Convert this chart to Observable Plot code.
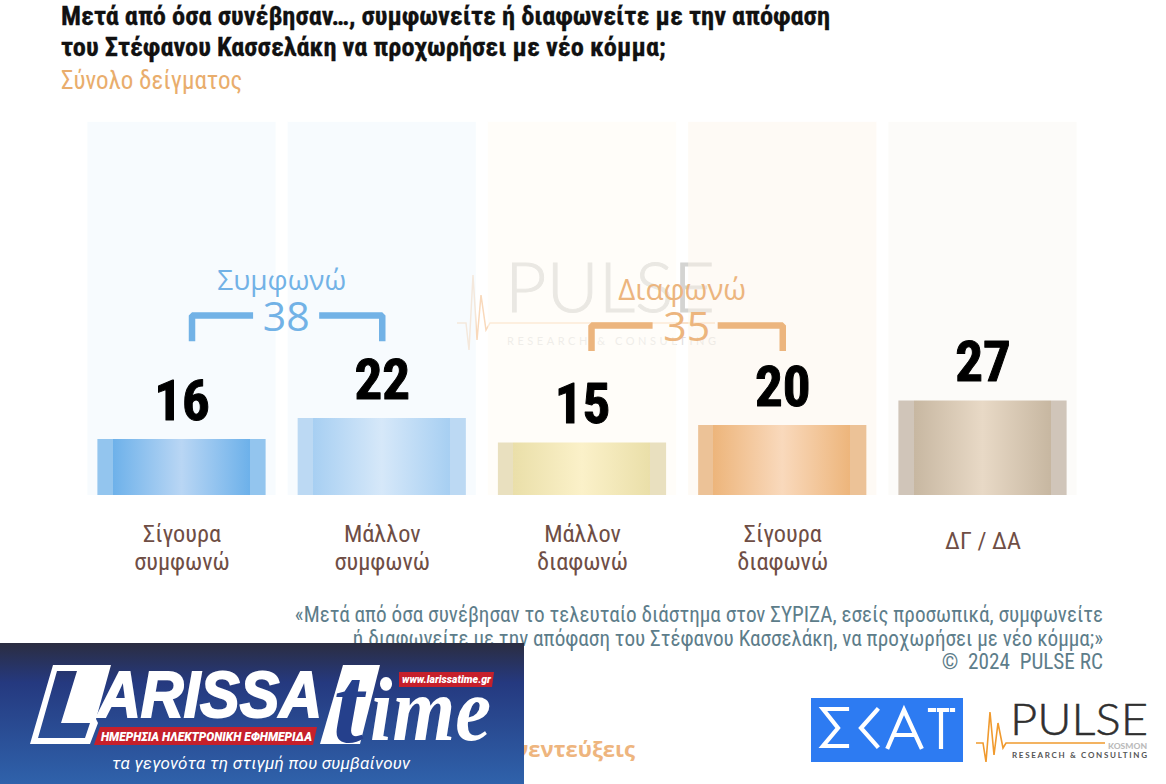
<!DOCTYPE html>
<html lang="el"><head><meta charset="utf-8">
<script src="https://cdn.jsdelivr.net/npm/d3@7"></script>
<script src="https://cdn.jsdelivr.net/npm/@observablehq/plot@0.6"></script>
<style>
html,body{margin:0;padding:0;background:#fff;width:1166px;height:784px;overflow:hidden}
#page{position:relative;width:1166px;height:784px;overflow:hidden}
#page>*{position:absolute}
.cond{font-family:"Roboto Condensed","Liberation Sans Narrow",Roboto,sans-serif}
.t{left:61px;color:#111;font-weight:700;font-size:26.4px;line-height:31px;white-space:nowrap;-webkit-text-stroke:.3px #111}
#chart{left:0;top:0;z-index:2}
#chart svg{background:transparent}
</style></head><body>
<div id="page">
<div class="t cond" style="top:1px">Μετά από όσα συνέβησαν…, συμφωνείτε ή διαφωνείτε με την απόφαση<br>του Στέφανου Κασσελάκη να προχωρήσει με νέο κόμμα;</div>
<div class="cond" style="left:61px;top:66px;font-size:25px;color:#e9ad6c;white-space:nowrap">Σύνολο δείγματος</div>

<svg style="left:450px;top:235px;z-index:1" width="320" height="130" font-family="Lato,sans-serif">
<g transform="translate(0,20)">
<polyline points="7,68 16,68 19,95 23,20 27,85 31,40 36,75 40,68 265,68" fill="none" stroke="#f9d9bb" stroke-width="1.5"/>
<text x="55" y="57" font-size="68" font-weight="300" fill="#d4d4d2" stroke="#d4d4d2" stroke-width=".9" textLength="210" lengthAdjust="spacingAndGlyphs">PULSE</text>
<text x="57" y="90" font-size="11" fill="#dedede" textLength="209">RESEARCH &amp; CONSULTING</text>
</g>
</svg>

<div id="chart"></div>

<div class="cond" style="right:63px;top:603px;text-align:right;font-size:21.2px;line-height:23.5px;color:#5d7d8a;white-space:nowrap;z-index:3">«Μετά από όσα συνέβησαν το τελευταίο διάστημα στον ΣΥΡΙΖΑ, εσείς προσωπικά, συμφωνείτε<br>ή διαφωνείτε με την απόφαση του Στέφανου Κασσελάκη, να προχωρήσει με νέο κόμμα;»<br>©&nbsp; 2024&nbsp; PULSE RC</div>
<div style="right:531px;top:733px;font:700 22px 'Open Sans',sans-serif;color:#eeb57e;white-space:nowrap;z-index:3">συνεντεύξεις</div>

<svg style="left:0;top:643px;z-index:4" width="524" height="141">
<defs><linearGradient id="bn" x1="0" x2="0" y1="0" y2="1"><stop offset="0" stop-color="#2b2d41"/><stop offset=".28" stop-color="#25397f"/><stop offset="1" stop-color="#2f62ab"/></linearGradient></defs>
<rect width="524" height="141" fill="url(#bn)"/>
<path d="M53 22H111L96 76L98 80L90 101H30Z M57 28L38 95H85L90 80H61L77 28Z" fill="#fff" fill-rule="evenodd"/>
<text x="98" y="74" font-family="Liberation Sans,sans-serif" font-weight="700" font-style="italic" font-size="65" fill="#fff" stroke="#fff" stroke-width="2" textLength="224" lengthAdjust="spacingAndGlyphs">ARISSA</text>
<path d="M100 84H317L313 102H94Z" fill="#c5202b"/>
<text x="101" y="98" font-family="Roboto,sans-serif" font-weight="900" font-style="italic" font-size="13" fill="#fff" textLength="211" lengthAdjust="spacingAndGlyphs">ΗΜΕΡΗΣΙΑ ΗΛΕΚΤΡΟΝΙΚΗ ΕΦΗΜΕΡΙΔΑ</text>
<path d="M343 22H380L360 101H320Z" fill="#fff"/>
<text x="333" y="99" font-family="Liberation Serif,serif" font-weight="700" font-style="italic" font-size="110" fill="#25408c">t</text>
<text x="370" y="97" font-family="Liberation Serif,serif" font-weight="700" font-style="italic" font-size="91" fill="#fff" textLength="121" lengthAdjust="spacingAndGlyphs">ime</text>
<path d="M399 29H494L492 44H399Z" fill="#c5202b"/>
<text x="402" y="40" font-family="Roboto,sans-serif" font-weight="900" font-style="italic" font-size="11.5" fill="#fff" textLength="89" lengthAdjust="spacingAndGlyphs">www.larissatime.gr</text>
<text x="112" y="126" font-family="Roboto,sans-serif" font-style="italic" font-size="17" fill="#fff" textLength="298">τα γεγονότα τη στιγμή που συμβαίνουν</text>
</svg>

<svg style="left:811px;top:698px;z-index:3" width="152" height="64">
<rect width="152" height="64" fill="#2d7bf2"/>
<g fill="none" stroke="#fff" stroke-width="4.2" stroke-linecap="square">
<path d="M36 11H12L27 30L12 48H36"/><path d="M66 12L50 30L66 48"/><path d="M77 49L93 12L110 49M83 37H103"/><path d="M119 12H123M128 12H136M141 12H142M130 12V49"/></g>
</svg>

<svg style="left:975px;top:683px;z-index:3" width="191" height="90" font-family="Lato,sans-serif">
<g transform="translate(0,15)">
<polyline points="1,45 8,45 11,64 15,14 19,57 23,25 28,50 31,45 130,45" fill="none" stroke="#f09a2e" stroke-width="1.6"/>
<text x="35" y="37" font-size="44" font-weight="300" fill="#2f2f2f" stroke="#2f2f2f" stroke-width=".5" textLength="138" lengthAdjust="spacingAndGlyphs">PULSE</text>
<text x="133" y="51" font-size="7" font-weight="900" fill="#bbb" textLength="39" lengthAdjust="spacingAndGlyphs">KOSMON</text>
<text x="37" y="60" font-size="8" font-weight="700" fill="#555" textLength="135">RESEARCH &amp; CONSULTING</text>
</g>
</svg>
</div>
<script>
const categories=["Σίγουρα\nσυμφωνώ","Μάλλον\nσυμφωνώ","Μάλλον\nδιαφωνώ","Σίγουρα\nδιαφωνώ","ΔΓ / ΔΑ"];
const values=[16,22,15,20,27];
const columnTop=106.6;
const columnTints=["#eff7fd","#eff7fd","#fffbf3","#fdf5eb","#f9f7f3"];
const barEdges=["#93c5ee","#bcd9f3","#e9e0bf","#ecc297","#d0c5b9"];
const barSides=["#6db1ea","#a7cff2","#eadfa9","#edb57b","#c7b7a1"];
const barMiddles=["#b9d6f4","#d6e8f9","#fbf1c9","#f9d9bc","#e8d9c6"];
const groups=[
 {label:"Συμφωνώ",total:38,members:[0,1],color:"#72b2e6",size:28,level:51.4,gapL:.355,gapR:.685,start:.05},
 {label:"Διαφωνώ",total:35,members:[2,3],color:"#ecb57e",size:29.5,level:48.6,gapL:.35,gapR:.675,start:.045}
];
const table=categories.map((c,i)=>({i,c,v:values[i]}));
const numFont='"Roboto Condensed","Liberation Sans Narrow",Roboto,sans-serif';

const gradients=()=>{
 const ns="http://www.w3.org/2000/svg";
 const defs=document.createElementNS(ns,"defs");
 table.forEach(({i})=>{
  const g=document.createElementNS(ns,"linearGradient");
  g.setAttribute("id","bar"+i);
  [[0,barEdges],[.09,barEdges],[.09,barSides],[.5,barMiddles],[.905,barSides],[.905,barEdges],[1,barEdges]].forEach(([o,a])=>{
   const s=document.createElementNS(ns,"stop");
   s.setAttribute("offset",o);s.setAttribute("stop-color",a[i]);g.appendChild(s);
  });
  defs.appendChild(g);
 });
 return defs;
};

const bracketMarks=groups.flatMap(g=>{
 const [a,b]=g.members, L=a+g.start, R=b, drop=g.level-7.3, m=a+.5;
 const opts={x:d=>d[0],y:d=>d[1],stroke:g.color,strokeWidth:6.5,strokeLinejoin:"miter",strokeLinecap:"butt"};
 return [
  Plot.line([[L,drop],[L,g.level],[a+g.gapL,g.level]],opts),
  Plot.line([[a+g.gapR,g.level],[R,g.level],[R,drop]],opts),
  Plot.text([g.total],{x:m+.02,y:g.level,text:d=>String(d),fill:g.color,fontSize:41,fontFamily:"'Open Sans',sans-serif",fontWeight:400,dy:2}),
  Plot.text([g.label],{x:m-.002,y:g.level,text:d=>d,fill:g.color,fontSize:g.size,fontFamily:"'Open Sans',sans-serif",fontWeight:400,dy:-35})
 ];
});

const chart=Plot.plot({
 width:1166,height:784,margin:0,
 style:{background:"transparent",overflow:"visible"},
 x:{type:"linear",domain:[0,4],range:[181.5,982.5],axis:null},
 y:{domain:[0,100],range:[495,145],axis:null},
 marks:[
  gradients,
  Plot.rect(table,{x1:d=>d.i-.47,x2:d=>d.i+.47,y1:0,y2:columnTop,fill:d=>columnTints[d.i],fillOpacity:.5}),
  ...table.map(d=>Plot.rect([d],{x1:d=>d.i-.42,x2:d=>d.i+.42,y1:0,y2:d=>d.v,fill:`url(#bar${d.i})`})),
  Plot.text(table,{x:"i",y:"v",text:d=>String(d.v),fontSize:55,fontWeight:700,fontFamily:numFont,fill:"#000",stroke:"#000",strokeWidth:1,lineAnchor:"bottom",dy:-20}),
  Plot.text(table.filter(d=>d.c.includes("\n")),{x:"i",y:0,text:"c",fontSize:24.3,fontFamily:numFont,fill:"#6f4e45",lineAnchor:"middle",lineHeight:1.15,dy:52}),
  Plot.text(table.filter(d=>!d.c.includes("\n")),{x:"i",y:0,text:"c",fontSize:24.3,fontFamily:numFont,fill:"#6f4e45",lineAnchor:"middle",dy:46})
 ].concat(bracketMarks)
});
document.getElementById("chart").appendChild(chart);
</script>
</body></html>
